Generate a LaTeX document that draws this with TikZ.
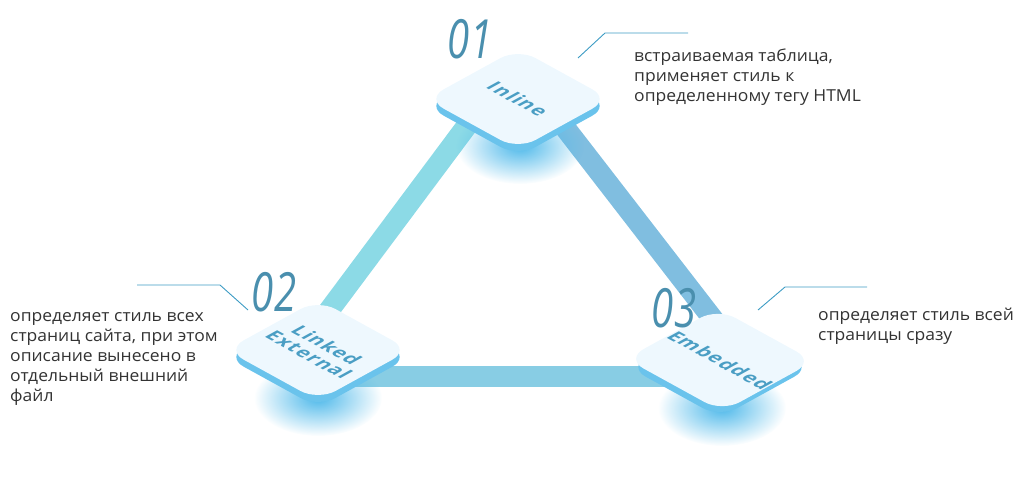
\documentclass[tikz,border=0pt]{standalone}
\usepackage{fontspec}
\setmainfont[FakeStretch=1.06]{Open Sans}
\newfontfamily\tilefont[LetterSpace=6]{Open Sans}
\usetikzlibrary{fadings}

\definecolor{tiletop}{HTML}{EEF8FE}
\definecolor{tileside}{HTML}{6AC3EC}
\definecolor{tiletext}{HTML}{4A9EC4}
\definecolor{numblue}{HTML}{4A8FAE}
\definecolor{glowblue}{HTML}{4FB9EA}
\definecolor{barleft}{HTML}{8CDAE6}
\definecolor{barright}{HTML}{80BEE0}
\definecolor{barbottom}{HTML}{88CDE4}
\definecolor{callout}{HTML}{3D9CC4}
\definecolor{desctext}{HTML}{333333}
\tikzfading[name=glowfade, inner color=transparent!0, outer color=transparent!100]

\begin{document}
\begin{tikzpicture}[x=1pt, y=1pt,
  tile/.style={rectangle, rounded corners=20pt, minimum size=130pt, inner sep=0pt, yscale=0.55, rotate=-45},
  tiletopface/.style={tile, fill=tiletop, text=tiletext, align=center, font=\tilefont\bfseries\fontsize{24}{25}\selectfont},
  tilesideface/.style={tile, fill=tileside},
  glow/.style={fill=glowblue, path fading=glowfade},
  bar/.style={line width=21pt},
  num/.style={text=numblue, xscale=0.7, font=\fontsize{54}{58}\selectfont\itshape},
  callout/.style={draw=callout, line width=0.9pt},
  desc/.style={anchor=base west, align=left, inner sep=0pt, text=desctext, font=\fontsize{16.5}{20}\selectfont}]
\useasboundingbox (0,0) rectangle (1024,-479);

% bar ends, hidden under the tiles
\coordinate (inline-l) at (501,-80);
\coordinate (linked-t) at (307,-340);
\coordinate (inline-r) at (532,-85);
\coordinate (embedded-t) at (733,-345);
\coordinate (linked-r) at (300,-376);
\coordinate (embedded-l) at (740,-376);
\draw[bar, draw=barleft] (inline-l) -- (linked-t);
\draw[bar, draw=barright] (inline-r) -- (embedded-t);
\draw[bar, draw=barbottom] (linked-r) -- (embedded-l);

% glow under the tiles
\fill[glow] (520,-146) ellipse (64 and 38);
\fill[glow] (318,-398) ellipse (64 and 38);
\fill[glow] (722,-408) ellipse (64 and 38);

% tiles
\node (inline side) [tilesideface] at (518,-106) {};
\node (inline) [tiletopface] at (518,-99) {Inline};
\node (linked side) [tilesideface] at (318,-357) {};
\node (linked) [tiletopface] at (318,-350) {Linked\\External};
\node (embedded side) [tilesideface] at (720,-367) {};
\node (embedded) [tiletopface] at (720,-360) {Embedded};

% numbers
\node (n1) [num] at (470,-39) {01};
\node (n2) [num] at (274,-292) {02};
\node (n3) [num] at (674,-308) {03};

% callouts
\coordinate (c1a) at (578,-58);
\coordinate (c1b) at (605,-33);
\coordinate (c1c) at (688,-33);
\draw[callout] (c1a) -- (c1b) -- (c1c);
\coordinate (c2a) at (137,-285);
\coordinate (c2b) at (220,-285);
\coordinate (c2c) at (248,-310);
\draw[callout] (c2a) -- (c2b) -- (c2c);
\coordinate (c3a) at (758,-310);
\coordinate (c3b) at (785,-287);
\coordinate (c3c) at (867,-287);
\draw[callout] (c3a) -- (c3b) -- (c3c);

% descriptions (base = last line)
\node (d1) [desc] at (634,-101.5) {встраиваемая таблица,\\применяет стиль к\\определенному тегу HTML};
\node (d2) [desc] at (10,-401) {определяет стиль всех\\страниц сайта, при этом\\описание вынесено в\\отдельный внешний\\файл};
\node (d3) [desc] at (818,-340.5) {определяет стиль всей\\страницы сразу};
\end{tikzpicture}
\end{document}
